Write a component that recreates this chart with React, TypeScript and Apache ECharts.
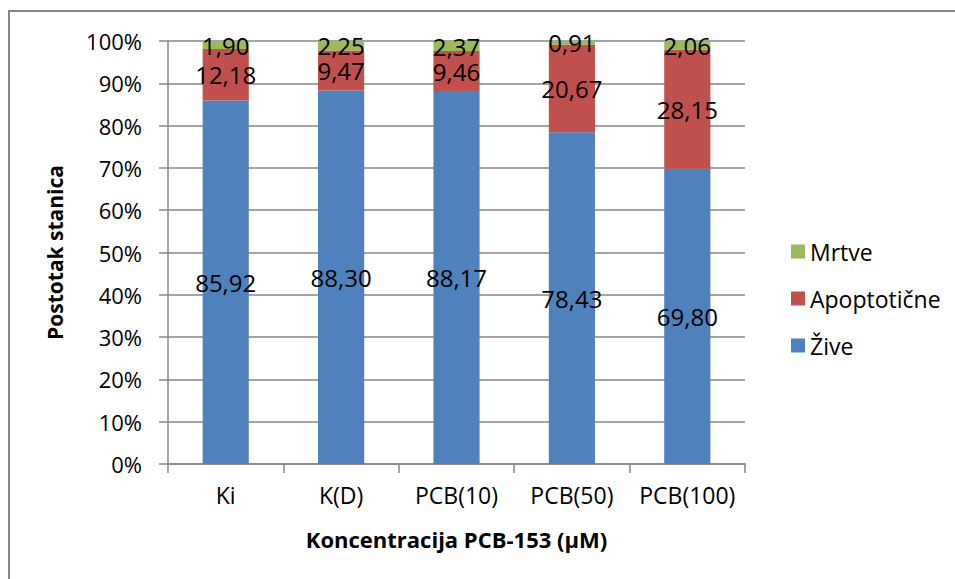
import React, { useEffect, useRef } from "react";
import * as echarts from "echarts";

const categories = ["Ki", "K(D)", "PCB(10)", "PCB(50)", "PCB(100)"];
const zive = [85.92, 88.3, 88.17, 78.43, 69.8];
const apoptoticne = [12.18, 9.47, 9.46, 20.67, 28.15];
const mrtve = [1.9, 2.25, 2.37, 0.91, 2.06];
const yTicks = [0, 10, 20, 30, 40, 50, 60, 70, 80, 90, 100];

const FONT = "'Open Sans', 'Noto Sans', sans-serif";

export default function App() {
  const ref = useRef<HTMLDivElement>(null);
  useEffect(() => {
    if (!ref.current) return;
    const chart = echarts.init(ref.current, null, { renderer: "svg" });
    const totals = categories.map((_, i) => zive[i] + apoptoticne[i] + mrtve[i]);
    const mk = (name: string, raw: number[], color: string) => ({
      name,
      type: "bar",
      stack: "total",
      barWidth: "40%",
      itemStyle: { color },
      data: raw.map((v, i) => ({ value: (v / totals[i]) * 100, raw: v })),
      label: {
        show: true,
        position: "inside",
        color: "#000",
        fontFamily: FONT,
        fontSize: 24,
        lineHeight: 18,
        formatter: (p: any) => p.data.raw.toFixed(2).replace(".", ","),
      },
    });
    chart.setOption({
      animation: false,
      textStyle: { fontFamily: FONT },
      graphic: [
        {
          type: "rect",
          shape: { x: 9, y: 11, width: 1200, height: 1200 },
          style: { fill: "none", stroke: "#868686", lineWidth: 2 },
        },
      ],
      grid: { left: 168, top: 41, width: 577, height: 423 },
      legend: {
        orient: "vertical",
        left: 786,
        top: 235,
        itemWidth: 14,
        itemHeight: 14,
        itemGap: 24,
        icon: "rect",
        data: ["Mrtve", "Apoptotične", "Žive"],
        textStyle: { fontFamily: FONT, fontSize: 23, color: "#000" },
      },
      xAxis: {
        type: "category",
        data: categories,
        name: "Koncentracija PCB-153 (µM)",
        nameLocation: "middle",
        nameGap: 64,
        nameTextStyle: { fontFamily: FONT, fontSize: 22, fontWeight: "bold", color: "#000" },
        axisLine: { lineStyle: { color: "#868686", width: 1.5 } },
        axisTick: { show: true, interval: 0, length: 9, lineStyle: { color: "#868686", width: 1.5 } },
        axisLabel: { interval: 0, color: "#000", fontFamily: FONT, fontSize: 23, margin: 19 },
      },
      yAxis: {
        type: "value",
        min: yTicks[0],
        max: yTicks[yTicks.length - 1],
        interval: 10,
        name: "Postotak stanica",
        nameLocation: "middle",
        nameGap: 103,
        nameTextStyle: { fontFamily: FONT, fontSize: 21, fontWeight: "bold", color: "#000" },
        axisLine: { show: true, lineStyle: { color: "#868686", width: 1.5 } },
        axisTick: { show: true, length: 9, lineStyle: { color: "#868686", width: 1.5 } },
        splitLine: { show: true, lineStyle: { color: "#868686", width: 1.5 } },
        axisLabel: { color: "#000", fontFamily: FONT, fontSize: 22, margin: 26, formatter: "{value}%" },
      },
      series: [
        mk("Žive", zive, "#4F81BD"),
        mk("Apoptotične", apoptoticne, "#C0504D"),
        mk("Mrtve", mrtve, "#9BBB59"),
      ],
    });
    return () => chart.dispose();
  }, []);
  return (
    <div
      ref={ref}
      style={{ position: "fixed", left: 0, top: 0, width: 955, height: 579, background: "#fff" }}
    />
  );
}
